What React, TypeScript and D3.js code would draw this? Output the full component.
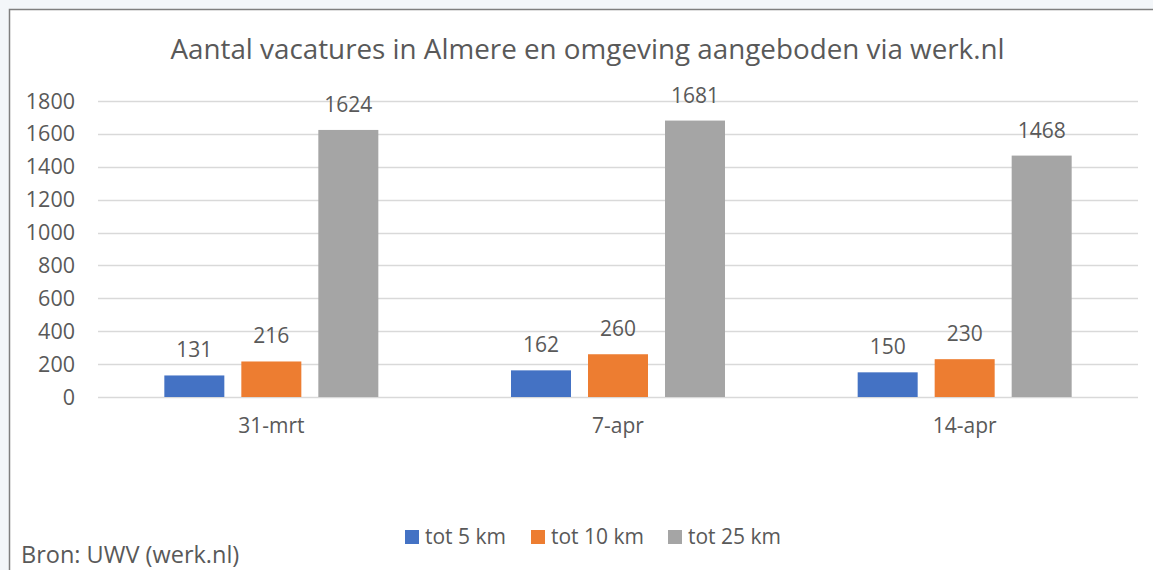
import React from "react";
import * as d3 from "d3";

const categories = ["31-mrt", "7-apr", "14-apr"];
const seriesNames = ["tot 5 km", "tot 10 km", "tot 25 km"];
const tot5 = [131, 162, 150];
const tot10 = [216, 260, 230];
const tot25 = [1624, 1681, 1468];
const yTicks = [0, 200, 400, 600, 800, 1000, 1200, 1400, 1600, 1800];
const colors = ["#4472C4", "#ED7D31", "#A5A5A5"];

const W = 1153;
const H = 570;
const FONT = "'Open Sans', sans-serif";
const TXT = "#595959";

export default function App() {
  const seriesValues = [tot5, tot10, tot25];
  const left = 98;
  const right = 1138;
  const top = 101;
  const bottom = 397;

  const x0 = d3.scaleBand<string>().domain(categories).range([left, right]).padding(0);
  const groupInner = 214;
  const inset = (x0.bandwidth() - groupInner) / 2;
  const x1 = d3
    .scaleBand<string>()
    .domain(seriesNames)
    .range([inset, inset + groupInner])
    .paddingInner(17 / 77)
    .paddingOuter(0);
  const y = d3.scaleLinear().domain([0, 1800]).range([bottom, top]);

  return (
    <svg
      width={W}
      height={H}
      style={{ position: "absolute", left: 0, top: 0, background: "#f3f6f9" }}
      fontFamily={FONT}
    >
      <rect x={9.5} y={9.5} width={W + 20} height={H + 20} fill="#ffffff" stroke="#7f7f7f" strokeWidth={1.5} />
      <text x={587.5} y={59} textAnchor="middle" fontSize={27.8} fill={TXT}>
        Aantal vacatures in Almere en omgeving aangeboden via werk.nl
      </text>
      {yTicks.map((t) => (
        <g key={t}>
          <line x1={left} x2={right} y1={Math.round(y(t)) + 0.5} y2={Math.round(y(t)) + 0.5} stroke="#d9d9d9" strokeWidth={1.5} />
          <text x={75} y={y(t)} dy="0.35em" textAnchor="end" fontSize={21.5} fill={TXT}>
            {t}
          </text>
        </g>
      ))}
      {categories.map((c, ci) => (
        <g key={c} transform={`translate(${x0(c)},0)`}>
          {seriesNames.map((s, si) => {
            const v = seriesValues[si][ci];
            const bx = x1(s)!;
            return (
              <g key={s}>
                <rect x={bx} y={y(v)} width={x1.bandwidth()} height={y(0) - y(v)} fill={colors[si]} />
                <text
                  x={bx + x1.bandwidth() / 2}
                  y={y(v) - 18}
                  textAnchor="middle"
                  fontSize={21}
                  fill={TXT}
                >
                  {v}
                </text>
              </g>
            );
          })}
          <text x={x0.bandwidth() / 2} y={433} textAnchor="middle" fontSize={21} fill={TXT}>
            {c}
          </text>
        </g>
      ))}
      {seriesNames.map((s, i) => {
        const lx = [405, 531, 668][i];
        return (
          <g key={s}>
            <rect x={lx} y={530} width={14} height={14} fill={colors[i]} />
            <text x={lx + 20} y={544} fontSize={21} fill={TXT}>
              {s}
            </text>
          </g>
        );
      })}
      <text x={21} y={563} fontSize={23.5} fill={TXT}>
        Bron: UWV (werk.nl)
      </text>
    </svg>
  );
}
